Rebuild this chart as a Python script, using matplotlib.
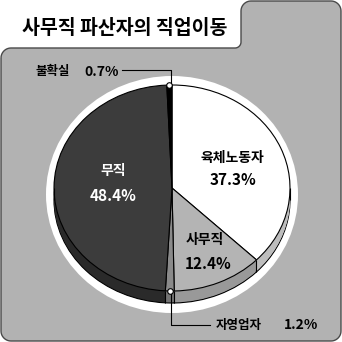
import numpy as np
import matplotlib
matplotlib.use("Agg")
import matplotlib.pyplot as plt
from matplotlib.path import Path
from matplotlib.patches import PathPatch, Ellipse

plt.rcParams['font.family'] = ['Noto Sans CJK KR', 'DejaVu Sans']

# data
title = '사무직 파산자의 직업이동'
labels = ['육체노동자', '사무직', '자영업자', '무직', '불확실']
values = [37.3, 12.4, 1.2, 48.4, 0.7]
top_colors = ['#ffffff', '#b4b4b4', '#8a8a8a', '#3c3c3c', '#000000']
side_colors = ['#bdbdbd', '#999999', '#747474', '#2a2a2a', '#000000']

W = 342
CX, CY = 172, 188      # pie centre in pixels
RX, RY = 118, 103      # ellipse radii in pixels
DEPTH = 12             # thickness in pixels

fig = plt.figure(figsize=(W / 100, W / 100), dpi=100)
ax = fig.add_axes([0, 0, 1, 1])
ax.set_xlim(0, W)
ax.set_ylim(W, 0)
ax.axis('off')


def arc(cx, cy, r, a0, a1, n=12):
    t = np.radians(np.linspace(a0, a1, n))
    return list(zip(cx + r * np.cos(t), cy - r * np.sin(t)))


# gray panel with tab (pixel coords, y down)
pts = []
pts += arc(11, 58, 10, 180, 90)
pts += arc(235, 42, 6, 270, 360)
pts += arc(251, 11, 10, 180, 90)
pts += arc(331, 11, 10, 90, 0)
pts += arc(331, 331, 10, 0, -90)
pts += arc(11, 331, 10, 270, 180)
pts.append(pts[0])
panel = PathPatch(Path(pts), facecolor='#b2b2b2', edgecolor='#4a4a4a', lw=1.0)
ax.add_patch(panel)

ax.text(22, 29, title, fontsize=14, fontweight='bold', va='center', ha='left')

# white rim around the pie
ax.add_patch(Ellipse((CX, CY + 6.5), 2 * (RX + 8), 2 * (RY + 15.5),
                     facecolor='white', edgecolor='none'))

# pie axes: unit circle maps onto the ellipse
pax = fig.add_axes([0, 0, 1, 1])
pax.patch.set_alpha(0)
d = DEPTH / RY
n_layers = DEPTH + 1
for i, k in enumerate(np.linspace(d, 0, n_layers)[:-1]):
    wp = dict(linewidth=0.8, edgecolor='black') if i == 0 else dict(linewidth=0)
    pax.pie(values, colors=side_colors, startangle=90, counterclock=False,
            center=(0, -k), radius=1, wedgeprops=wp)
pax.pie(values, colors=top_colors, startangle=90, counterclock=False,
        center=(0, 0), radius=1, wedgeprops=dict(linewidth=0.8, edgecolor='black'))
pax.set_aspect('auto')
pax.set_xlim(-CX / RX, (W - CX) / RX)
pax.set_ylim((CY - W) / RY, CY / RY)
pax.axis('off')

# vertical edges on the visible side
bounds = 90 - 3.6 * np.cumsum([0] + values)
for b in bounds:
    th = np.radians(b)
    if np.sin(th) < 0:
        pax.vlines(np.cos(th), np.sin(th) - d, np.sin(th), color='black', lw=0.8)
pax.vlines([-1, 1], -d, 0, color='black', lw=0.8)

# overlay for labels and leader lines
lax = fig.add_axes([0, 0, 1, 1])
lax.set_xlim(0, W)
lax.set_ylim(W, 0)
lax.axis('off')

fs = 10
lax.text(232, 158, labels[0], fontsize=fs, fontweight='bold', ha='center', va='center')
lax.text(233, 180, f'{values[0]}%', fontsize=fs + 1, fontweight='bold', ha='center', va='center')
lax.text(205, 240, labels[1], fontsize=fs, fontweight='bold', ha='center', va='center')
lax.text(208, 264, f'{values[1]}%', fontsize=fs + 1, fontweight='bold', ha='center', va='center')
lax.text(113, 171, labels[3], fontsize=fs, fontweight='bold', ha='center', va='center', color='white')
lax.text(113, 196, f'{values[3]}%', fontsize=fs + 1, fontweight='bold', ha='center', va='center', color='white')

lax.text(36, 72, labels[4], fontsize=9, fontweight='bold', ha='left', va='center')
lax.text(84, 72, f'{values[4]}%', fontsize=10, fontweight='bold', ha='left', va='center')
lax.plot([122, 171, 171], [70, 70, 84], color='black', lw=0.8)

lax.text(216, 325, labels[2], fontsize=9, fontweight='bold', ha='left', va='center')
lax.text(284, 325, f'{values[2]}%', fontsize=10, fontweight='bold', ha='left', va='center')
lax.plot([171, 171, 210], [293, 325, 325], color='black', lw=0.8)

# markers at the small slices, on the pie edge
mids = 90 - 3.6 * (np.cumsum(values) - np.array(values) / 2)
for idx in (2, 4):
    th = np.radians(mids[idx])
    lax.plot(CX + RX * np.cos(th), CY - RY * np.sin(th), 'o', ms=4,
             mfc='white', mec='black', mew=0.8)

fig.savefig('out.png', dpi=100)
